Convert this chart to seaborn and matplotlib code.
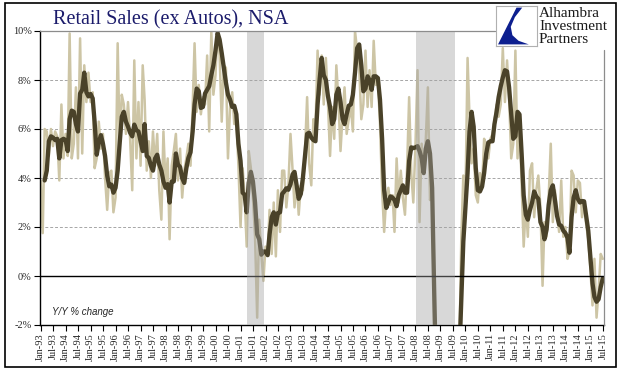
import numpy as np
import pandas as pd
import seaborn as sns
import matplotlib.pyplot as plt
import matplotlib.dates as mdates
from matplotlib.patches import Rectangle, Polygon
from matplotlib.lines import Line2D

# monthly Y/Y % change, Jan-93 .. Jul-15
months = pd.date_range('1993-01-01', '2015-07-01', freq='MS')

raw_yoy = [
    3.9, 1.75, 6.0, 5.9, 4.9, 6.0, 5.3, 5.9, 5.7, 3.9, 7.0, 4.8,      # 1993
    5.8, 4.9, 9.9, 4.8, 5.4, 7.7, 4.8, 9.7, 5.0, 8.6, 7.1, 8.3,       # 1994
    7.1, 7.5, 4.4, 4.8, 6.3, 5.2, 5.8, 4.0, 2.7, 4.2, 4.3, 2.6,       # 1995
    3.2, 9.5, 5.4, 7.4, 7.0, 5.8, 7.1, 5.6, 3.5, 8.8, 4.8, 7.1,       # 1996
    4.5, 8.6, 7.2, 4.3, 5.5, 4.0, 5.9, 4.5, 5.8, 3.5, 2.3, 5.9,       # 1997
    3.7, 4.8, 1.5, 4.5, 5.1, 5.8, 3.9, 5.2, 3.2, 4.3, 4.8, 5.4,       # 1998
    4.5, 6.9, 9.5, 6.7, 7.8, 6.6, 7.3, 7.0, 9.0, 5.9, 10.0, 7.4,      # 1999
    8.2, 10.2, 9.0, 6.3, 8.6, 8.5, 4.8, 6.9, 7.5, 6.2, 6.3, 4.5,      # 2000
    2.0, 4.4, 3.3, 1.2, 5.1, 4.4, 3.2, 1.6, -1.7, 2.3, 0.9, -0.2,     # 2001
    1.2, 0.9, 2.7, 0.9, 3.0, 0.8, 3.5, 1.8, 4.3, 4.3, 2.8, 3.7,       # 2002
    5.8, 4.3, 2.8, 3.9, 2.5, 3.7, 3.5, 5.1, 7.3, 4.6, 3.7, 6.4,       # 2003
    6.0, 9.2, 7.4, 9.0, 7.0, 8.9, 7.1, 4.9, 6.9, 5.6, 8.6, 7.2,       # 2004
    5.1, 6.6, 7.7, 5.8, 6.4, 6.9, 5.9, 10.0, 9.2, 8.5, 6.4, 7.0,      # 2005
    9.2, 6.9, 8.4, 6.9, 9.6, 7.8, 8.0, 6.2, 3.5, 1.8, 3.2, 3.6,       # 2006
    2.9, 3.3, 1.8, 4.8, 3.0, 4.3, 3.2, 2.5, 4.4, 7.3, 4.2, 3.0,       # 2007
    5.3, 8.4, 2.2, 5.4, 4.3, 5.6, 7.7, 3.1, 3.5, -2.0, -5.5, -8.5,    # 2008
    -9.5, -10.0, -10.5, -10.0, -9.0, -8.5, -7.5, -6.0, -4.5, -3.5, 1.5, 4.1,  # 2009
    3.2, 8.9, 6.5, 4.6, 5.2, 3.3, 3.0, 4.2, 3.6, 5.6, 5.3, 4.8,       # 2010
    5.6, 5.8, 6.3, 7.0, 6.5, 7.0, 9.3, 7.1, 8.8, 7.3, 4.8, 5.4,       # 2011
    9.2, 4.8, 6.3, 3.8, 1.2, 2.9, 1.6, 4.3, 4.6, 2.4, 3.5, 4.1,       # 2012
    2.8, -0.4, 2.2, 1.6, 3.2, 5.4, 2.2, 3.5, 2.6, 1.8, 3.9, 1.6,      # 2013
    2.0, 0.7, 1.0, 4.3, 4.1, 2.6, 3.9, 3.8, 2.4, 3.0, 2.1, 1.5,       # 2014
    0.3, -1.2, 0.7, -1.7, -0.6, 0.9, 0.7,                             # 2015
]

avg_yoy = [
    np.nan, np.nan, 3.9, 4.3, 5.5, 5.7, 5.65, 5.55, 5.6, 4.8, 5.55, 5.6,
    5.55, 5.1, 6.4, 6.75, 6.7, 6.2, 5.9, 7.45, 7.6, 8.3, 7.5, 7.33,
    7.43, 7.25, 6.3, 4.95, 5.45, 5.75, 5.4, 4.9, 4.1, 3.66, 3.73, 3.4,
    3.6, 4.3, 5.4, 6.5, 6.7, 6.3, 6.1, 5.85, 5.7, 6.18, 5.95, 5.9,
    5.5, 5.1, 6.2, 4.9, 4.82, 4.5, 4.3, 4.8, 4.95, 4.55, 4.3, 3.86,
    3.6, 3.75, 3.0, 3.85, 3.86, 5.0, 4.55, 4.45, 4.0, 3.8, 4.4, 4.82,
    5.05, 5.9, 7.0, 7.65, 7.55, 6.86, 6.9, 7.45, 7.6, 7.75, 8.2, 8.6,
    9.2, 9.92, 9.65, 9.1, 8.5, 7.9, 7.4, 7.2, 6.9, 6.95, 6.6, 5.4,
    4.7, 3.4, 3.32, 2.6, 3.8, 4.25, 3.86, 3.0, 1.7, 1.5, 0.87, 1.0,
    1.0, 0.85, 1.7, 2.4, 2.6, 2.1, 2.57, 2.6, 3.35, 3.45, 3.58, 3.52,
    3.75, 4.15, 4.25, 3.7, 3.15, 3.35, 4.0, 4.9, 5.8, 5.85, 5.65, 5.55,
    5.5, 7.0, 8.0, 8.9, 8.2, 8.0, 7.35, 6.9, 6.2, 6.4, 7.4, 7.65,
    7.1, 6.4, 6.2, 6.6, 6.95, 7.0, 7.4, 8.3, 9.3, 9.45, 8.6, 7.54,
    7.65, 8.15, 8.0, 7.6, 8.15, 8.15, 8.08, 7.2, 5.6, 3.5, 2.78, 3.0,
    3.25, 3.2, 3.1, 2.85, 3.3, 3.5, 3.7, 3.4, 3.4, 4.7, 5.25, 5.22,
    5.25, 5.3, 5.1, 4.8, 4.2, 5.2, 5.5, 5.0, 3.6, -0.6, -4.5, -7.0,
    -8.5, -9.5, -9.8, -9.5, -9.0, -8.2, -7.5, -6.5, -5.2, -3.5, -1.0, 1.4,
    2.8, 4.2, 5.9, 6.7, 6.1, 4.4, 3.5, 3.45, 3.65, 4.2, 5.0, 5.45,
    5.5, 5.5, 6.2, 6.7, 7.3, 7.75, 8.1, 8.4, 8.35, 7.7, 6.6, 5.6,
    5.7, 6.7, 6.6, 5.0, 3.3, 2.5, 2.3, 2.7, 3.0, 3.45, 3.25, 3.15,
    2.2, 2.0, 1.5, 1.9, 2.9, 3.5, 3.7, 3.1, 2.45, 2.1, 2.05, 1.85,
    1.75, 1.55, 0.95, 2.4, 3.2, 3.5, 3.15, 3.0, 3.06, 3.05, 2.45, 1.85,
    0.8, -0.3, -0.85, -1.05, -0.95, -0.45, -0.1,
]

recessions = [('2001-04-10', '2001-12-15'), ('2008-01-06', '2009-08-06')]
y_ticks = [-2, 0, 2, 4, 6, 8, 10]

df = pd.DataFrame({'month': months, 'raw': raw_yoy, 'avg': avg_yoy})

sns.set_style('white')
plt.rcParams['font.family'] = ['Liberation Serif', 'DejaVu Serif']

W, H = 629, 375
fig = plt.figure(figsize=(W / 100, H / 100), dpi=100)
ax = fig.add_axes([40 / W, 50 / H, 564 / W, 294 / H])

for v in [2, 4, 6, 8]:
    ax.axhline(v, color='#a6a6a6', lw=0.7, ls=(0, (3, 2)), zorder=1)

sns.lineplot(data=df, x='month', y='raw', color='#cdc5a5', lw=1.8, ax=ax, zorder=2)
sns.lineplot(data=df, x='month', y='avg', color='#4a4229', lw=3.1, ax=ax, zorder=3)

ax.axhline(0, color='black', lw=1.0, zorder=4)
for s, e in recessions:
    ax.axvspan(pd.Timestamp(s), pd.Timestamp(e), color='#a2a2a2', alpha=0.41, lw=0, zorder=5)

ax.set_ylim(-2, 10)
ax.set_xlim(pd.Timestamp('1992-12-23'), pd.Timestamp('2015-07-19'))
ax.set_yticks(y_ticks)
ax.set_yticklabels([f'{v}%' for v in y_ticks])
ax.xaxis.set_major_locator(mdates.MonthLocator(bymonth=[1, 7]))
ax.xaxis.set_major_formatter(mdates.DateFormatter('%b-%y'))
ax.set_xlabel('')
ax.set_ylabel('')
ax.tick_params(axis='both', direction='out', length=4, width=0.8, color='black',
               labelsize=7.5, pad=2, left=True, bottom=True)
plt.setp(ax.get_xticklabels(), rotation=90)

for side in ['top', 'right']:
    ax.spines[side].set_visible(False)
for side in ['left', 'bottom']:
    ax.spines[side].set_color('black')
    ax.spines[side].set_linewidth(1.0)

ax.text(0.021, 0.044, 'Y/Y % change', transform=ax.transAxes, fontsize=7,
        style='italic', family=['Liberation Sans', 'DejaVu Sans'], va='center')

# partial top/right frame lines (broken by the logo)
fig.add_artist(Line2D([40 / W, 495 / W], [344 / H, 344 / H], color='#8c8c8c', lw=0.9))
fig.add_artist(Line2D([604 / W, 604 / W], [50 / H, 325 / H], color='#8c8c8c', lw=0.9))

# outer border
fig.add_artist(Rectangle((5 / W, 8 / H), 611 / W, 364 / H, fill=False, ec='black', lw=1.2))

# title
fig.text(53 / W, 1 - 24 / H, 'Retail Sales (ex Autos), NSA', fontsize=14.5,
         color='#1b1b6b', va='baseline', ha='left')

# logo
lax = fig.add_axes([496 / W, 1 - 46 / H, 41 / W, 40 / H])
lax.set_xlim(0, 1)
lax.set_ylim(0, 1)
lax.set_xticks([])
lax.set_yticks([])
for sp in lax.spines.values():
    sp.set_color('#b0b0b0')
    sp.set_linewidth(0.8)
lax.add_patch(Polygon([(0.05, 0.04), (0.5, 0.96), (0.64, 0.96), (0.46, 0.72),
                       (0.36, 0.48), (0.4, 0.27), (0.55, 0.13), (0.8, 0.04)],
                      closed=True, color='#0d1f8f', lw=0))
fig.text(539 / W, 1 - 7 / H, 'Alhambra\nInvestment\nPartners', fontsize=11,
         linespacing=0.98, va='top', ha='left', color='#1a1a1a')

fig.savefig('out.png', dpi=100)
